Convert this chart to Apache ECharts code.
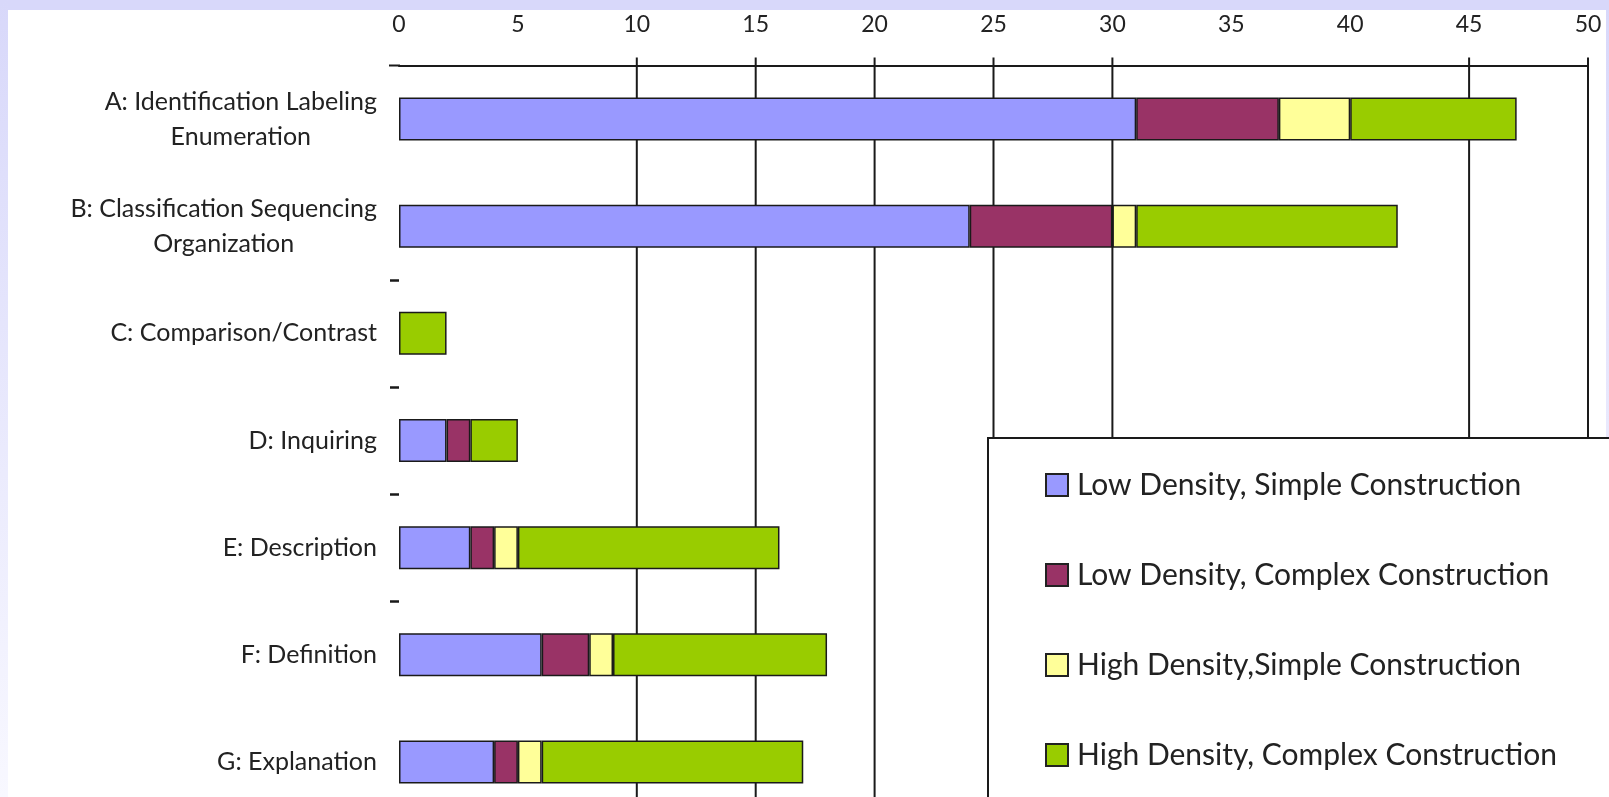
<!DOCTYPE html>
<html>
<head>
<meta charset="utf-8">
<script src="https://cdn.jsdelivr.net/npm/echarts@6/dist/echarts.min.js"></script>
<style>
  html, body { margin: 0; padding: 0; }
  #chart { width: 1609px; height: 797px; }
</style>
</head>
<body>
<div id="chart"></div>
<script>
// ---- data ----
const categories = [
  "A: Identification Labeling\nEnumeration",
  "B: Classification Sequencing\nOrganization",
  "C: Comparison/Contrast",
  "D: Inquiring",
  "E: Description",
  "F: Definition",
  "G: Explanation"
];
const seriesNames = [
  "Low Density, Simple Construction",
  "Low Density, Complex Construction",
  "High Density,Simple Construction",
  "High Density, Complex Construction"
];
const lowSimple   = [31, 24, 0, 2, 3, 6, 4];
const lowComplex  = [6, 6, 0, 1, 1, 2, 1];
const highSimple  = [3, 1, 0, 0, 1, 1, 1];
const highComplex = [7, 11, 2, 2, 11, 9, 11];
const gridValues  = [10, 15, 20, 25, 30, 45, 50];
const tickLabels  = [0, 5, 10, 15, 20, 25, 30, 35, 40, 45, 50];

const colors = ["#9999FF", "#993366", "#FFFF99", "#99CC00"];
const values = [lowSimple, lowComplex, highSimple, highComplex];
const FONT = "Lato";

const chart = echarts.init(document.getElementById('chart'));

const barSeries = seriesNames.map((name, i) => ({
  name: name,
  type: 'bar',
  stack: 'total',
  barWidth: 43,
  z: 2,
  itemStyle: { color: colors[i], borderColor: '#1a1a1a', borderWidth: 1.5 },
  data: values[i].map(v => (v === 0 ? '-' : v))
}));

const gridSeries = {
  type: 'custom',
  z: 1,
  silent: true,
  clip: false,
  encode: { x: 0, y: 1 },
  data: gridValues.map(v => [v, 0]),
  renderItem: function (params, api) {
    const x = api.coord([api.value(0), 0])[0];
    const cs = params.coordSys;
    return {
      type: 'line',
      shape: { x1: x, y1: cs.y - 8, x2: x, y2: cs.y + cs.height },
      style: { stroke: '#1a1a1a', lineWidth: 2 }
    };
  }
};

chart.setOption({
  backgroundColor: {
    type: 'linear', x: 0, y: 0, x2: 0, y2: 1,
    colorStops: [{ offset: 0, color: '#d8d8fa' }, { offset: 1, color: '#f8f8ff' }]
  },
  animation: false,
  graphic: {
    elements: [{
      type: 'rect', z: -10, silent: true,
      shape: { x: 8, y: 10, width: 1598, height: 800 },
      style: { fill: '#ffffff' }
    }, {
      type: 'rect', z: -10, silent: true,
      shape: { x: 8, y: 0, width: 1601, height: 10 },
      style: { fill: '#d8d8fa' }
    }, {
      type: 'line', z: 3, silent: true,
      shape: { x1: 389, y1: 65.5, x2: 400, y2: 65.5 },
      style: { stroke: '#1a1a1a', lineWidth: 2 }
    }, {
      type: 'rect', z: 3, silent: true,
      shape: { x: 988, y: 438, width: 700, height: 420 },
      style: { fill: '#ffffff', stroke: '#1a1a1a', lineWidth: 2 }
    }]
  },
  grid: { left: 399, right: 21, top: 65.5, height: 750, outerBoundsMode: 'none', containLabel: false },
  xAxis: {
    type: 'value',
    position: 'top',
    min: 0, max: 50, interval: 5,
    axisLine: { show: true, lineStyle: { color: '#1a1a1a', width: 2 } },
    axisTick: { show: false },
    splitLine: { show: false },
    axisLabel: {
      fontFamily: FONT, fontSize: 23, color: '#222', margin: 29,
      formatter: function (v) { return tickLabels.indexOf(v) >= 0 ? String(v) : ''; }
    }
  },
  yAxis: {
    type: 'category',
    inverse: true,
    data: categories,
    axisLine: { show: false },
    axisTick: {
      show: true, length: 9,
      interval: function (index) { return index >= 2 && index <= 5; },
      lineStyle: { color: '#1a1a1a', width: 2.5 }
    },
    axisLabel: {
      margin: 22,
      fontFamily: FONT, fontSize: 25, color: '#222',
      formatter: function (v) {
        return v.split('\n').map(s => '{c|' + s + '}').join('\n');
      },
      rich: {
        c: { fontFamily: FONT, fontSize: 25, color: '#222', align: 'center', lineHeight: 35 }
      }
    }
  },
  legend: {
    orient: 'vertical',
    left: 1045, top: 470,
    data: seriesNames,
    icon: 'rect',
    itemWidth: 22, itemHeight: 22,
    itemGap: 60,
    padding: 0,
    z: 5,
    itemStyle: { borderColor: '#222', borderWidth: 2 },
    textStyle: { fontFamily: FONT, fontSize: 30, color: '#222', lineHeight: 30, padding: [0, 0, 0, 4] }
  },
  series: [gridSeries].concat(barSeries)
});
</script>
</body>
</html>
